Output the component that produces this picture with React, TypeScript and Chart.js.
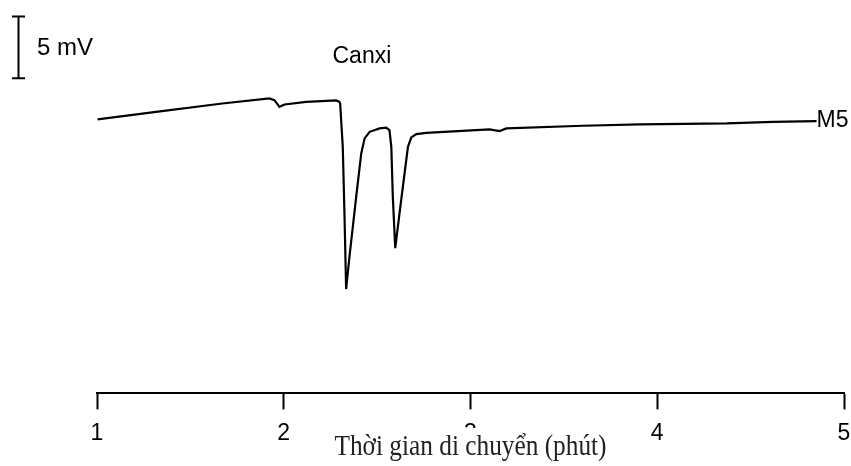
import React, { useEffect, useRef } from "react";
import { Chart, registerables } from "chart.js";

Chart.register(...registerables);

// Migration time (minutes) and detector signal (mV, arbitrary offset)
const times = [
  1.003, 1.316, 1.671, 1.923, 1.95, 1.977, 2.004, 2.12, 2.281, 2.298, 2.302,
  2.316, 2.325, 2.334, 2.352, 2.388, 2.415, 2.433, 2.46, 2.513, 2.549, 2.566,
  2.576, 2.584, 2.597, 2.62, 2.647, 2.665, 2.683, 2.71, 2.763, 2.834, 3.102,
  3.156, 3.192, 3.601, 3.907, 4.371, 4.619, 4.853,
];
const signal = [
  22.15, 22.77, 23.44, 23.85, 23.71, 23.17, 23.36, 23.57, 23.69, 23.57, 23.44,
  19.94, 14.6, 8.44, 11.07, 15.91, 19.41, 20.62, 21.15, 21.43, 21.48, 21.29,
  19.94, 15.91, 11.75, 14.57, 17.8, 19.94, 20.7, 20.97, 21.07, 21.13, 21.35,
  21.21, 21.43, 21.64, 21.75, 21.83, 21.96, 22.02,
];
const xTicks = [1, 2, 3, 4, 5];
const seriesName = "M5";
const peakLabel = "Canxi";
const peakLabelPos = { x: 2.413, y: 27.3 };
const scaleBarMv = 5;
const scaleBarBase = 25.48;
const scaleBarLabel = "5 mV";
const xTitle = "Thời gian di chuyển (phút)";

const SANS = "'Liberation Sans', Arial, sans-serif";
const SERIF = "'Liberation Serif', 'Times New Roman', serif";

const annotations = {
  id: "annotations",
  afterDraw(chart: any) {
    const ctx = chart.ctx;
    const xs = chart.scales.x;
    const ys = chart.scales.y;
    ctx.save();
    ctx.fillStyle = "#000";
    ctx.strokeStyle = "#000";

    // scale bar
    const yb = ys.getPixelForValue(scaleBarBase);
    const yt = ys.getPixelForValue(scaleBarBase + scaleBarMv);
    const bx = 18.5;
    ctx.lineWidth = 2;
    ctx.beginPath();
    ctx.moveTo(bx, yt);
    ctx.lineTo(bx, yb);
    ctx.moveTo(bx - 6.5, yt);
    ctx.lineTo(bx + 6.5, yt);
    ctx.moveTo(bx - 6.5, yb);
    ctx.lineTo(bx + 6.5, yb);
    ctx.stroke();
    ctx.font = `24px ${SANS}`;
    ctx.textAlign = "left";
    ctx.textBaseline = "middle";
    ctx.fillText(scaleBarLabel, 37, (yt + yb) / 2 + 1);

    ctx.font = `23px ${SANS}`;
    // peak label
    ctx.textAlign = "center";
    ctx.fillText(
      peakLabel,
      xs.getPixelForValue(peakLabelPos.x) + 1,
      ys.getPixelForValue(peakLabelPos.y) + 1
    );

    // series label
    const lx = xs.getPixelForValue(times[times.length - 1]);
    const ly = ys.getPixelForValue(signal[signal.length - 1]);
    ctx.textAlign = "left";
    ctx.fillText(seriesName, lx, ly);

    // axis title with white backing (covers tick label "3")
    const cx = xs.getPixelForValue(3);
    ctx.font = `30px ${SERIF}`;
    const w = ctx.measureText(xTitle).width;
    const sx = 272 / w;
    ctx.fillStyle = "#fff";
    ctx.fillRect(cx - 140, 428, 280, 38);
    ctx.fillStyle = "#222";
    ctx.translate(cx, 455);
    ctx.scale(sx, 1);
    ctx.textAlign = "center";
    ctx.textBaseline = "alphabetic";
    ctx.fillText(xTitle, 0, 0);
    ctx.restore();
  },
};

export default function App() {
  const ref = useRef<HTMLCanvasElement>(null);
  useEffect(() => {
    document.body.style.margin = "0";
    const chart = new Chart(ref.current!, {
      type: "line",
      data: {
        datasets: [
          {
            label: seriesName,
            data: times.map((t, i) => ({ x: t, y: signal[i] })),
            borderColor: "#000",
            borderWidth: 2.2,
            pointRadius: 0,
            tension: 0,
            fill: false,
          },
        ],
      },
      options: {
        responsive: false,
        animation: false,
        layout: { padding: { top: 10, left: 97, right: 7, bottom: 9 } },
        plugins: { legend: { display: false }, tooltip: { enabled: false } },
        scales: {
          x: {
            type: "linear",
            min: 1,
            max: 5,
            afterBuildTicks: (s: any) => {
              s.ticks = xTicks.map((v) => ({ value: v }));
            },
            afterFit: (s: any) => {
              s.paddingLeft = 0;
              s.paddingRight = 0;
            },
            ticks: {
              color: "#000",
              font: { family: SANS, size: 23 },
              padding: 10,
              maxRotation: 0,
            },
            grid: {
              drawOnChartArea: false,
              drawTicks: true,
              tickLength: 16,
              tickColor: "#000",
              tickWidth: 2,
            },
            border: { display: true, color: "#000", width: 2 },
          },
          y: { display: false, min: 0, max: 31 },
        },
      },
      plugins: [annotations],
    });
    return () => chart.destroy();
  }, []);
  return (
    <div style={{ position: "absolute", left: 0, top: 0 }}>
      <canvas ref={ref} width={851} height={466} />
    </div>
  );
}
